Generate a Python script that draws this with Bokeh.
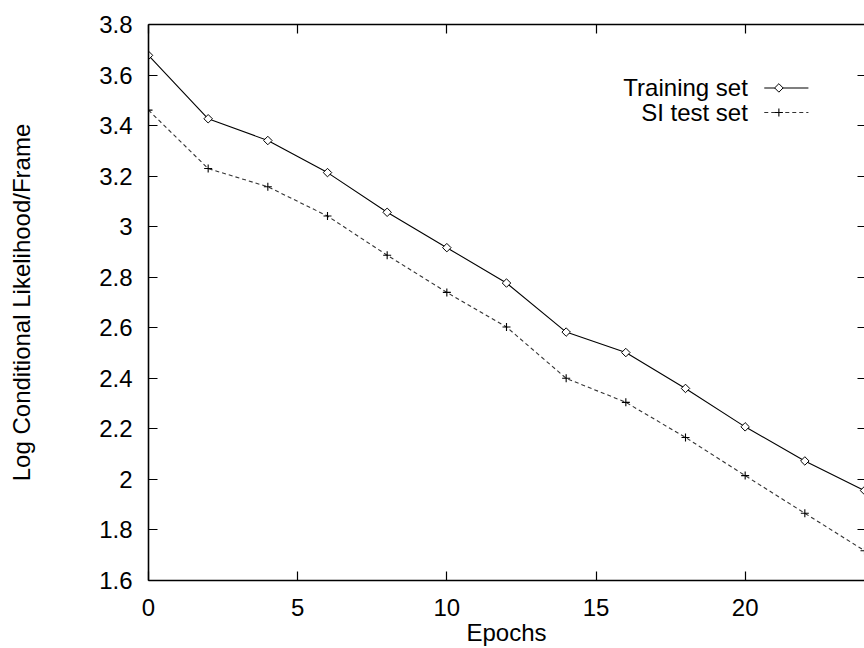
from bokeh.plotting import figure
from bokeh.models import LinearAxis, Range1d, Label
from bokeh.embed import file_html
from bokeh.resources import INLINE
import numpy as np

# ---- data ----
epochs = [0, 2, 4, 6, 8, 10, 12, 14, 16, 18, 20, 22, 24]
training = [3.678, 3.427, 3.341, 3.214, 3.057, 2.917, 2.777, 2.583, 2.502, 2.360, 2.208, 2.073, 1.956]
si_test = [3.461, 3.230, 3.158, 3.042, 2.887, 2.740, 2.603, 2.400, 2.305, 2.166, 2.015, 1.866, 1.718]
series_names = ["Training set", "SI test set"]
x_ticks = [0, 5, 10, 15, 20]
y_ticks = [1.6, 1.8, 2.0, 2.2, 2.4, 2.6, 2.8, 3.0, 3.2, 3.4, 3.6, 3.8]
y_tick_labels = ["1.6", "1.8", "2", "2.2", "2.4", "2.6", "2.8", "3", "3.2", "3.4", "3.6", "3.8"]
x_label = "Epochs"
y_label = "Log Conditional Likelihood/Frame"

FONT = "Liberation Sans"
FS = "24px"

p = figure(width=864, height=648, output_backend="svg", toolbar_location=None,
           x_range=Range1d(0, 24), y_range=Range1d(1.6, 3.8),
           min_border_left=148, min_border_right=0, min_border_top=24, min_border_bottom=65)
p.background_fill_color = "white"
p.border_fill_color = "white"
p.grid.visible = False
p.outline_line_color = None

def style_axis(ax, show_labels=True, line=True):
    ax.major_tick_in = 9
    ax.major_tick_out = 0
    ax.minor_tick_line_color = None
    ax.major_tick_line_color = "black"
    ax.major_tick_line_width = 1.2
    ax.axis_line_color = "black" if line else None
    ax.axis_line_width = 1.6
    ax.major_label_text_font = FONT
    ax.major_label_text_font_size = FS if show_labels else "0px"
    ax.major_label_text_color = "black"
    if not show_labels:
        ax.major_label_standoff = 0
        ax.major_label_text_color = None

xa = p.xaxis[0]
ya = p.yaxis[0]
xa.ticker = x_ticks
ya.ticker = y_ticks
ya.major_label_overrides = {t: l for t, l in zip(y_ticks, y_tick_labels)}
style_axis(xa)
style_axis(ya)
xa.major_label_standoff = 18
ya.major_label_standoff = 16
xa.axis_label = x_label
ya.axis_label = y_label
for ax in (xa, ya):
    ax.axis_label_text_font = FONT
    ax.axis_label_text_font_size = FS
    ax.axis_label_text_font_style = "normal"
    ax.axis_label_text_color = "black"
xa.axis_label_standoff = 0
ya.axis_label_standoff = 61

top = LinearAxis(ticker=x_ticks)
right = LinearAxis(ticker=y_ticks)
style_axis(top, False)
style_axis(right, False, line=False)
right.major_tick_in = 7
p.add_layout(top, "above")
p.add_layout(right, "right")

# ---- series ----
p.line(epochs, training, line_color="black", line_width=1.1)
p.scatter(epochs, training, marker="square", angle=np.pi / 4, size=6,
          fill_color="white", line_color="black", line_width=1)
p.line(epochs, si_test, line_color="#333333", line_width=1.1, line_dash="4 3")
p.scatter(epochs, si_test, marker="cross", size=8, line_color="black", line_width=1.1)

# ---- legend (gnuplot style: text left, sample right) ----
leg_text_x = 20.09
leg_x0, leg_x1 = 20.64, 22.12
leg_xm = 21.13
leg_y = [3.549, 3.452]
for name, yy in zip(series_names, leg_y):
    p.add_layout(Label(x=leg_text_x, y=yy, text=name, text_font=FONT, text_font_size=FS,
                       text_align="right", text_baseline="middle", text_color="black"))
p.line([leg_x0, leg_x1], [leg_y[0]] * 2, line_color="black", line_width=1.1)
p.scatter([leg_xm], [leg_y[0]], marker="square", angle=np.pi / 4, size=6,
          fill_color="white", line_color="black", line_width=1)
p.line([leg_x0, leg_x1], [leg_y[1]] * 2, line_color="#333333", line_width=1.1, line_dash="4 3")
p.scatter([leg_xm], [leg_y[1]], marker="cross", size=8, line_color="black", line_width=1.1)

open("out.html", "w").write(file_html(p, INLINE))
